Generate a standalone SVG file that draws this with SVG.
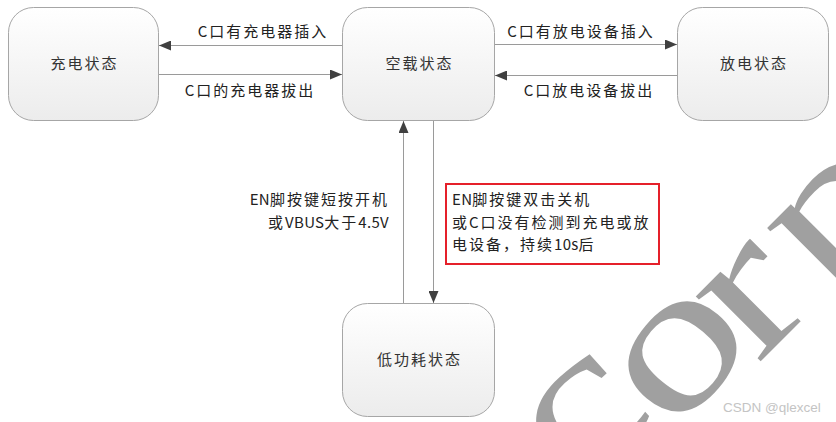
<svg xmlns="http://www.w3.org/2000/svg" width="836" height="422" viewBox="0 0 836 422">
<defs>
<linearGradient id="nodeFill" x1="0" y1="0" x2="0" y2="1">
<stop offset="0" stop-color="#ffffff"/>
<stop offset="1" stop-color="#ececec"/>
</linearGradient>
<marker id="arrow" markerUnits="userSpaceOnUse" markerWidth="12" markerHeight="10" refX="12" refY="5" orient="auto">
<path d="M0,0 L12,5 L0,10 z" fill="#404040"/>
</marker>
<style>
.node{fill:url(#nodeFill);stroke:#a6a6a6;stroke-width:1}
.nlabel{font-family:"Noto Sans CJK SC","Noto Sans",sans-serif;font-size:15px;fill:#333;letter-spacing:2px;text-anchor:middle}
.elabel{font-family:"Noto Sans CJK SC","Noto Sans",sans-serif;font-size:15px;fill:#222;letter-spacing:2px}
.lat{letter-spacing:0.3px}
.edge{stroke:#9a9a9a;stroke-width:1;fill:none;marker-end:url(#arrow)}
.wm{font-family:"Liberation Serif","DejaVu Serif",serif;font-size:200px;fill:#a0a0a0}
</style>
</defs>
<rect width="836" height="422" fill="#ffffff"/>
<g id="watermark">
<text class="wm" transform="translate(573,492) rotate(-42) scale(1.3,1)">c</text>
<text class="wm" transform="translate(676,436) rotate(-50) scale(1.3,1)">o</text>
<text class="wm" transform="translate(757,365) rotate(-45) scale(1.3,1)">r</text>
<text class="wm" transform="translate(828,297) rotate(-45) scale(1.3,1)">p</text>
</g>
<g id="node-charge">
<rect class="node" x="8.5" y="7.5" width="150" height="113" rx="25"/>
<text class="nlabel" x="84.5" y="69">充电状态</text>
</g>
<g id="node-idle">
<rect class="node" x="342.5" y="7.5" width="152" height="113" rx="25"/>
<text class="nlabel" x="419.5" y="69">空载状态</text>
</g>
<g id="node-discharge">
<rect class="node" x="677.5" y="7.5" width="151" height="113" rx="25"/>
<text class="nlabel" x="754" y="69">放电状态</text>
</g>
<g id="node-lowpower">
<rect class="node" x="342.5" y="303.5" width="152" height="113" rx="25"/>
<text class="nlabel" x="419.5" y="365">低功耗状态</text>
</g>
<g id="connectors">
<line class="edge" x1="342" y1="45.5" x2="159" y2="45.5"/>
<line class="edge" x1="159" y1="74.5" x2="342" y2="74.5"/>
<line class="edge" x1="495" y1="44.5" x2="677" y2="44.5"/>
<line class="edge" x1="677" y1="75.5" x2="495" y2="75.5"/>
<line class="edge" x1="403.5" y1="303" x2="403.5" y2="121"/>
<line class="edge" x1="433.5" y1="121" x2="433.5" y2="303"/>
</g>
<g id="edge-labels">
<text class="elabel" x="263" y="36.5" text-anchor="middle">C口有充电器插入</text>
<text class="elabel" x="250" y="96" text-anchor="middle">C口的充电器拔出</text>
<text class="elabel" x="581" y="36.5" text-anchor="middle">C口有放电设备插入</text>
<text class="elabel" x="589" y="95.5" text-anchor="middle">C口放电设备拔出</text>
<text class="elabel" x="389" y="205" text-anchor="end"><tspan class="lat">EN</tspan>脚按键短按开机</text>
<text class="elabel" x="389" y="228" text-anchor="end">或<tspan class="lat">VBUS</tspan>大于<tspan class="lat">4.5V</tspan></text>
</g>
<g id="note">
<rect x="446" y="184" width="213" height="80" fill="none" stroke="#e5202a" stroke-width="2"/>
<text class="elabel" x="452" y="204.5"><tspan class="lat">EN</tspan>脚按键双击关机</text>
<text class="elabel" x="452" y="227.5">或C口没有检测到充电或放</text>
<text class="elabel" x="452" y="249.5">电设备，持续<tspan class="lat">10s</tspan>后</text>
</g>
<text x="723" y="412" font-family="Liberation Sans, Arial, sans-serif" font-size="13.5" fill="#c4c4c4">CSDN @qlexcel</text>
</svg>
